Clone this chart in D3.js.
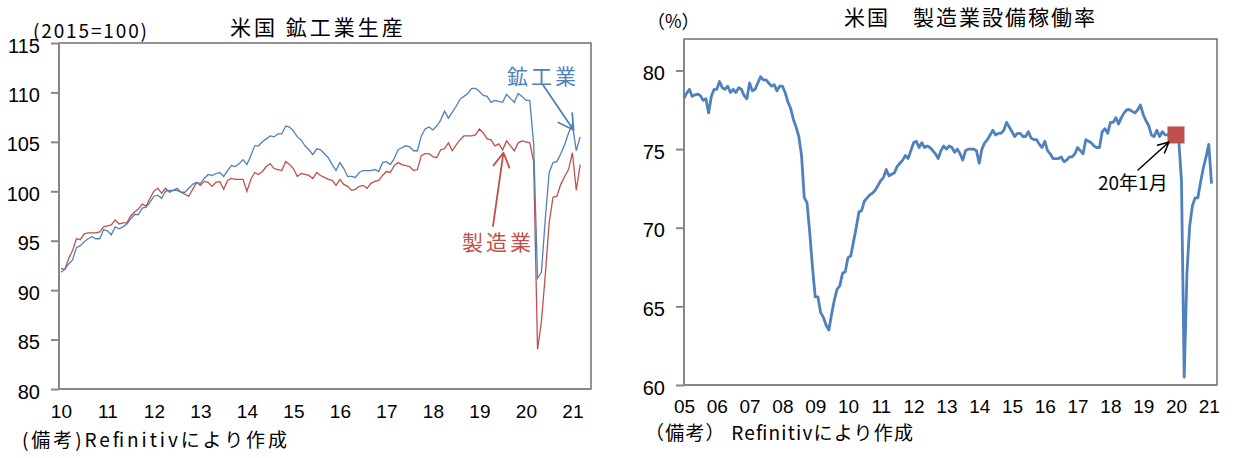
<!DOCTYPE html>
<html lang="ja">
<head>
<meta charset="UTF-8">
<title>米国 鉱工業生産 / 製造業設備稼働率</title>
<script src="https://d3js.org/d3.v7.min.js"></script>
<style>
  body { margin: 0; background: #fff; }
  svg { display: block; }
  .jp { font-family: "Noto Sans CJK JP", sans-serif; }
  .tick text { font-family: "Liberation Sans", Arial, sans-serif; fill: #000; }
</style>
</head>
<body>
<svg id="chart" width="1234" height="458"></svg>
<script>
// 左: 鉱工業生産 (2015=100), 2010年1月～2021年3月, 月次
var ipStart = 2010;
var ipMining = [
  91.8, 92.1, 92.65, 93.05, 94.3, 94.5, 94.9, 95.2, 95.4, 95.2,
  95.2, 96.1, 96.0, 95.6, 96.4, 96.2, 96.4, 96.7, 97.2, 97.65,
  97.65, 98.3, 98.4, 98.9, 99.5, 99.6, 99.3, 100.0, 100.1, 100.1,
  100.3, 99.9, 99.9, 100.3, 100.7, 100.9, 100.8, 101.3, 101.7, 101.6,
  101.8, 101.9, 101.5, 102.1, 102.6, 102.5, 102.8, 103.2, 102.7, 103.6,
  104.6, 104.6, 105.0, 105.3, 105.6, 105.5, 105.8, 105.8, 106.6, 106.5,
  106.1, 105.5, 105.2, 104.6, 104.2, 103.7, 104.3, 104.2, 103.8, 103.4,
  102.7, 102.1, 102.9, 102.3, 101.5, 101.5, 101.4, 101.9, 102.1, 102.1,
  102.1, 102.2, 102.0, 102.9, 103.0, 102.7, 103.3, 104.2, 104.4, 104.6,
  104.5, 104.1, 104.1, 105.6, 106.3, 106.5, 106.2, 106.6, 107.2, 108.1,
  107.4, 108.0, 108.6, 109.3, 109.6, 109.9, 110.4, 110.4, 110.1, 109.7,
  109.6, 109.0, 109.2, 109.1, 109.0, 109.8, 109.4, 109.0, 109.9, 109.6,
  109.2, 109.2, 104.8, 91.2, 91.8, 97.2, 101.9, 102.9, 103.0, 103.8,
  104.7, 105.9, 106.8, 104.1, 105.5
];
var ipManuf = [
  92.2, 92.1, 93.2, 94.0, 95.2, 95.1, 95.7, 95.8, 95.8, 95.8,
  95.9, 96.4, 96.5, 96.6, 97.1, 96.7, 96.8, 96.8, 97.5, 97.9,
  98.2, 98.7, 98.5, 99.3, 100.0, 100.3, 99.8, 100.3, 99.9, 100.1,
  100.1, 99.9, 99.7, 99.5, 100.2, 100.9, 100.6, 101.0, 100.9, 100.5,
  100.9, 101.0, 100.2, 101.1, 101.3, 101.2, 101.2, 101.2, 100.0, 101.2,
  101.9, 101.7, 102.0, 102.5, 102.8, 102.3, 102.2, 102.1, 103.0, 102.7,
  102.3, 101.5, 101.8, 101.7, 101.6, 101.3, 101.9, 101.6, 101.4, 101.2,
  101.1, 100.6, 101.2, 100.7, 100.5, 100.1, 100.2, 100.5, 100.6, 100.3,
  100.8, 101.0, 101.1, 101.6, 102.0, 101.9, 102.6, 102.9, 102.7, 102.6,
  102.5, 102.1, 102.2, 103.6, 103.8, 103.8, 103.5, 103.4, 104.2, 104.3,
  104.9, 104.1, 104.7, 105.2, 105.6, 105.6, 105.6, 105.7, 106.3, 105.9,
  105.3, 105.2, 104.6, 104.8, 104.2, 105.1, 104.6, 104.1, 104.9, 105.1,
  105.0, 104.9, 103.0, 84.0, 86.8, 91.5, 96.8, 99.4, 99.5, 100.7,
  101.5, 102.2, 103.9, 100.1, 102.7
];
var ipYearLabels = ["10", "11", "12", "13", "14", "15", "16", "17", "18", "19", "20", "21"];
var ipTicks = [80, 85, 90, 95, 100, 105, 110, 115];

// 右: 製造業設備稼働率 (%), 2005年1月～2021年2月, 月次
var cuStart = 2005;
var cuRate = [
  78.24, 78.56, 78.8, 78.35, 78.45, 78.5, 78.4, 78.1, 78.2, 77.3,
  78.35, 78.8, 78.8, 79.3, 78.9, 78.8, 79.0, 78.6, 78.8, 78.6,
  78.9, 78.8, 78.4, 78.2, 79.2, 78.7, 78.8, 79.2, 79.6, 79.4,
  79.4, 79.2, 79.0, 79.1, 78.7, 79.0, 79.0, 78.6, 78.0, 77.6,
  76.9, 76.4, 75.8, 74.6, 71.9, 71.6, 69.7, 67.5, 65.6, 65.6,
  64.6, 64.3, 63.8, 63.5, 64.5, 65.4, 66.1, 66.3, 67.1, 67.2,
  68.1, 68.2, 69.1, 70.0, 71.0, 71.1, 71.7, 71.9, 72.1, 72.2,
  72.4, 72.7, 73.0, 73.2, 73.7, 73.3, 73.4, 73.5, 73.9, 74.1,
  74.3, 74.6, 74.4, 74.9, 75.4, 75.5, 75.1, 75.4, 75.1, 75.2,
  75.1, 74.9, 74.7, 74.4, 74.9, 75.2, 75.0, 75.2, 75.1, 74.8,
  75.0, 74.7, 74.3, 74.9, 75.0, 75.0, 75.0, 74.9, 74.1, 75.0,
  75.4, 75.6, 75.9, 76.2, 75.9, 76.0, 76.0, 76.2, 76.7, 76.4,
  76.1, 75.8, 76.0, 76.0, 75.8, 75.8, 76.1, 75.7, 75.6, 75.6,
  75.3, 75.1, 75.5, 74.9, 74.7, 74.4, 74.4, 74.4, 74.5, 74.2,
  74.3, 74.5, 74.5, 74.7, 75.1, 74.9, 74.7, 75.6, 75.5, 75.4,
  75.2, 75.1, 75.1, 76.1, 76.3, 76.0, 76.7, 76.7, 77.0, 76.6,
  77.0, 77.3, 77.5, 77.5, 77.4, 77.3, 77.5, 77.8, 77.2, 76.8,
  76.5, 75.9, 75.8, 76.2, 75.8, 76.1, 75.9, 75.9, 75.9, 75.9,
  75.9, 75.6, 73.0, 60.5, 67.1, 70.1, 71.4, 71.9, 71.9, 72.9,
  73.8, 74.5, 75.3, 72.8
];
var cuYearLabels = ["05", "06", "07", "08", "09", "10", "11", "12", "13", "14", "15", "16", "17", "18", "19", "20", "21"];
var cuTicks = [60, 65, 70, 75, 80];
var cuMarkIndex = 180; // 20年1月

var BLUE = "#4F81BD", RED = "#C0504D", AXIS = "#878787", BORDER = "#595959";

var svg = d3.select("#chart");

function frame(x0, x1, yTop, yBot) {
  svg.append("rect")
    .attr("x", x0).attr("y", yTop)
    .attr("width", x1 - x0).attr("height", yBot - yTop)
    .attr("fill", "none").attr("stroke", BORDER).attr("stroke-width", 1.3);
}

function yAxis(scale, ticks, xPos) {
  var g = svg.append("g")
    .attr("transform", "translate(" + xPos + ",0)")
    .call(d3.axisLeft(scale).tickValues(ticks).tickSize(8).tickPadding(11));
  g.select(".domain").remove();
  g.selectAll(".tick line").attr("stroke", AXIS).attr("stroke-width", 2);
  g.selectAll(".tick text").attr("font-size", 20).attr("dy", "0.45em");
  return g;
}

function xAxis(scale, labels, yPos, pad, size) {
  var g = svg.append("g")
    .attr("transform", "translate(0," + yPos + ")")
    .call(d3.axisBottom(scale)
      .tickValues(labels.map(function(d, k) { return k * 12; }))
      .tickFormat(function(d, k) { return labels[k]; })
      .tickSize(0).tickPadding(pad));
  g.select(".domain").remove();
  g.selectAll(".tick text").attr("font-size", size);
  return g;
}

function arrow(x0, y0, x1, y1, color, width, head, ang) {
  var a = Math.atan2(y1 - y0, x1 - x0);
  var p = d3.path();
  p.moveTo(x0, y0); p.lineTo(x1, y1);
  [-ang, ang].forEach(function(t) {
    p.moveTo(x1, y1);
    p.lineTo(x1 - head * Math.cos(a + t), y1 - head * Math.sin(a + t));
  });
  svg.append("path").attr("d", p.toString())
    .attr("fill", "none").attr("stroke", color)
    .attr("stroke-width", width).attr("stroke-linecap", "round");
}

// ---------- 左: 鉱工業生産 ----------
var xL = d3.scaleLinear().domain([-0.5, 136.8]).range([59, 591]);
var yL = d3.scaleLinear().domain([80, 115]).range([389, 43]);

frame(59, 591, 43, 389);
yAxis(yL, ipTicks, 59);
xAxis(xL, ipYearLabels, 389, 16, 19);
svg.append("line").attr("x1", 59).attr("x2", 59).attr("y1", 43).attr("y2", 390)
  .attr("stroke", AXIS).attr("stroke-width", 2);
svg.append("line").attr("x1", 58).attr("x2", 591).attr("y1", 389).attr("y2", 389)
  .attr("stroke", AXIS).attr("stroke-width", 2);

var lineL = d3.line().x(function(d, i) { return xL(i); }).y(function(d) { return yL(d); });
svg.append("path").datum(ipManuf).attr("d", lineL)
  .attr("fill", "none").attr("stroke", RED).attr("stroke-width", 1.3);
svg.append("path").datum(ipMining).attr("d", lineL)
  .attr("fill", "none").attr("stroke", BLUE).attr("stroke-width", 1.3);

svg.append("text").attr("class", "jp").attr("x", 33).attr("y", 38)
  .attr("font-size", 19).attr("textLength", 114).text("(2015=100)");
svg.append("text").attr("class", "jp").attr("x", 230).attr("y", 35)
  .attr("font-size", 21).attr("letter-spacing", 3).text("米国 鉱工業生産");
svg.append("text").attr("class", "jp").attr("x", 507).attr("y", 84)
  .attr("font-size", 21).attr("letter-spacing", 3).attr("fill", BLUE).text("鉱工業");
svg.append("text").attr("class", "jp").attr("x", 462).attr("y", 250)
  .attr("font-size", 21).attr("letter-spacing", 3).attr("fill", RED).text("製造業");
arrow(543, 85, xL(132.3), yL(106.2), BLUE, 1.8, 17, 0.52);
arrow(493, 226, xL(114.2), yL(103.9), RED, 1.8, 16, 0.52);
svg.append("text").attr("class", "jp").attr("x", 22).attr("y", 447)
  .attr("font-size", 19).attr("textLength", 265).text("(備考)Refinitivにより作成");

// ---------- 右: 製造業設備稼働率 ----------
var xR = d3.scaleLinear().domain([0, 195]).range([684, 1217]);
var yR = d3.scaleLinear().domain([60, 82]).range([385, 39]);

frame(684, 1217, 39, 385);
yAxis(yR, cuTicks, 684);
xAxis(xR, cuYearLabels, 385, 15, 19);
svg.append("line").attr("x1", 684).attr("x2", 684).attr("y1", 39).attr("y2", 386)
  .attr("stroke", AXIS).attr("stroke-width", 2);
svg.append("line").attr("x1", 683).attr("x2", 1217).attr("y1", 385).attr("y2", 385)
  .attr("stroke", AXIS).attr("stroke-width", 2);

var lineR = d3.line().x(function(d, i) { return xR(i); }).y(function(d) { return yR(d); });
svg.append("path").datum(cuRate).attr("d", lineR)
  .attr("fill", "none").attr("stroke", BLUE).attr("stroke-width", 2.8)
  .attr("stroke-linejoin", "round");

svg.append("rect")
  .attr("x", xR(cuMarkIndex) - 8.5).attr("y", yR(cuRate[cuMarkIndex]) - 8.5)
  .attr("width", 17).attr("height", 17).attr("fill", RED);

svg.append("text").attr("class", "jp").attr("x", 647).attr("y", 28)
  .attr("font-size", 18).text("（%）");
svg.append("text").attr("class", "jp").attr("x", 844).attr("y", 25)
  .attr("font-size", 21).attr("letter-spacing", 2).text("米国　製造業設備稼働率");
svg.append("text").attr("class", "jp").attr("x", 1098).attr("y", 190)
  .attr("font-size", 19).text("20年1月");
arrow(1138, 170, xR(cuMarkIndex) - 7, yR(cuRate[cuMarkIndex]) + 7, "#000", 1.5, 12, 0.45);
svg.append("text").attr("class", "jp").attr("x", 645).attr("y", 440)
  .attr("font-size", 19).attr("textLength", 268).text("（備考） Refinitivにより作成");
</script>
</body>
</html>
